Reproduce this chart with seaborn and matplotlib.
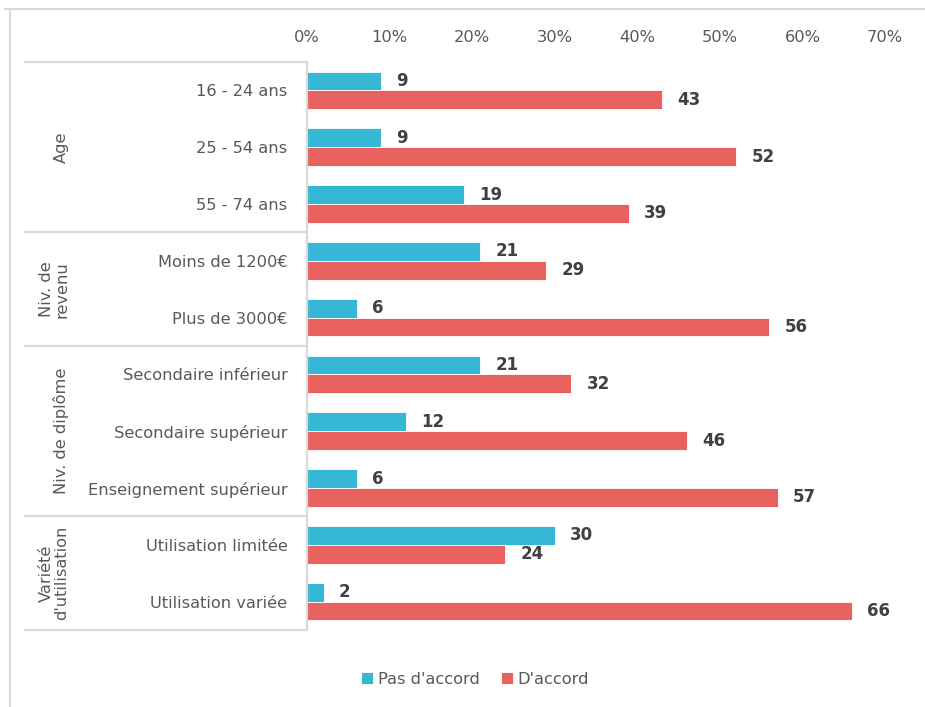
import matplotlib
matplotlib.use("Agg")
import matplotlib.pyplot as plt
from matplotlib.lines import Line2D
import matplotlib.transforms as mtransforms
import pandas as pd
import seaborn as sns

categories = [
    "16 - 24 ans", "25 - 54 ans", "55 - 74 ans",
    "Moins de 1200€", "Plus de 3000€",
    "Secondaire inférieur", "Secondaire supérieur", "Enseignement supérieur",
    "Utilisation limitée", "Utilisation variée",
]
pas_accord = [9, 9, 19, 21, 6, 21, 12, 6, 30, 2]
accord = [43, 52, 39, 29, 56, 32, 46, 57, 24, 66]
series_names = ["Pas d'accord", "D'accord"]

groups = ["Age", "Niv. de\nrevenu", "Niv. de diplôme", "Variété\nd'utilisation"]
group_sizes = [3, 2, 3, 2]

x_ticks = [0, 10, 20, 30, 40, 50, 60, 70]
x_tick_labels = ["0%", "10%", "20%", "30%", "40%", "50%", "60%", "70%"]

BLUE = "#35B7D5"
RED = "#E8635F"
TEXT = "#595959"
LINE = "#D9D9D9"
FS = 11.7

sns.set_style("white")
plt.rcParams["font.family"] = ["DejaVu Sans"]

df = pd.DataFrame({
    "categorie": categories * 2,
    "valeur": pas_accord + accord,
    "serie": [series_names[0]] * len(categories) + [series_names[1]] * len(categories),
})

fig = plt.figure(figsize=(9.25, 7.07), dpi=100)
W, H = 925, 707
ax = fig.add_axes([307 / W, 1 - 630 / H, 578 / W, 568 / H])

sns.barplot(
    data=df, x="valeur", y="categorie", hue="serie", orient="h",
    order=categories, hue_order=series_names, palette=[BLUE, RED],
    width=0.66, ax=ax, edgecolor="white", linewidth=0.6, saturation=1,
)

ax.set_xlim(0, 70)
ax.set_ylim(len(categories) - 0.5, -0.5)
ax.set_xlabel("")
ax.set_ylabel("")
ax.xaxis.tick_top()
ax.set_xticks(x_ticks)
ax.set_xticklabels(x_tick_labels)
ax.tick_params(axis="x", length=0, pad=12, labelsize=FS, labelcolor=TEXT)
ax.tick_params(axis="y", length=0, pad=14, labelsize=FS, labelcolor=TEXT)

for s in ["top", "right", "bottom"]:
    ax.spines[s].set_visible(False)
ax.spines["left"].set_color(LINE)
ax.spines["left"].set_linewidth(1.6)

# value labels
for cont, vals in zip(ax.containers, [pas_accord, accord]):
    ax.bar_label(cont, labels=[f"{v}" for v in vals], padding=11,
                 fontsize=12, fontweight="bold", color="#404040")

# group table lines and group labels
trans = mtransforms.blended_transform_factory(ax.transAxes, ax.transData)
x_left = (24 - 307) / 578
bounds = [-0.5]
for n in group_sizes:
    bounds.append(bounds[-1] + n)
for b in bounds:
    ax.plot([x_left, 0], [b, b], transform=trans, color=LINE, lw=1.6,
            clip_on=False, solid_capstyle="butt")
x_grp = (69 - 307) / 578
for g, lo, hi in zip(groups, bounds[:-1], bounds[1:]):
    ax.text(x_grp, (lo + hi) / 2, g, transform=trans, rotation=90,
            ha="right", va="center", multialignment="center",
            fontsize=FS, color=TEXT, linespacing=1.0)

# outer frame
fig.add_artist(Line2D([5 / W, 1], [1 - 9 / H, 1 - 9 / H], color=LINE, lw=1.6))
fig.add_artist(Line2D([10 / W, 10 / W], [0, 1 - 9 / H], color=LINE, lw=1.6))

# legend
handles, labels = ax.get_legend_handles_labels()
if ax.get_legend() is not None:
    ax.get_legend().remove()
fig.legend(handles, labels, loc="center", bbox_to_anchor=(475 / W, 1 - 679 / H),
           ncol=2, frameon=False, fontsize=FS, labelcolor=TEXT,
           handlelength=0.75, handleheight=0.75, handletextpad=0.3,
           columnspacing=1.3)

fig.savefig("out.png", dpi=100, facecolor="white")
